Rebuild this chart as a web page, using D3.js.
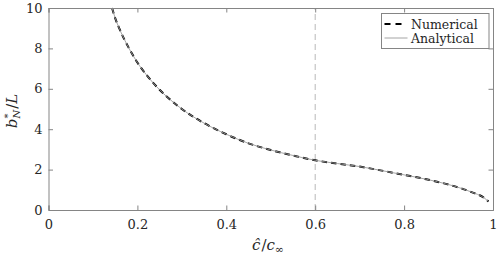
<!DOCTYPE html>
<html>
<head>
<meta charset="utf-8">
<script src="https://cdn.jsdelivr.net/npm/d3@7/dist/d3.min.js"></script>
<style>
  body { margin: 0; background: #fff; }
</style>
</head>
<body>
<div class="svgContainer"></div>
<script>
// values
const ratio = [0.143, 0.15, 0.16, 0.18, 0.2, 0.22, 0.25, 0.28, 0.3, 0.35, 0.4, 0.45, 0.5,
  0.55, 0.6, 0.65, 0.7, 0.75, 0.8, 0.85, 0.9, 0.95, 0.98, 0.99];
const numerical = [10.0, 9.5, 8.95, 8.05, 7.3, 6.7, 5.95, 5.35, 5.0, 4.3, 3.75, 3.3, 2.97,
  2.7, 2.46, 2.3, 2.15, 1.95, 1.74, 1.52, 1.26, 0.9, 0.6, 0.42];
const analytical = numerical;
const xTicks = [0, 0.2, 0.4, 0.6, 0.8, 1];
const yTicks = [0, 2, 4, 6, 8, 10];
const markX = 0.6;

const width = 498;
const height = 260;
const margin = {left: 48.5, right: 5, top: 8, bottom: 50};
const axisColor = '#858585';
const serif = '"DejaVu Serif", "Liberation Serif", serif';

const svg = d3.select('.svgContainer').append('svg')
  .attr('width', width)
  .attr('height', height)
  .style('font-family', serif);

const scaleX = d3.scaleLinear()
  .domain([0, 1])
  .range([margin.left, width - margin.right]);

const scaleY = d3.scaleLinear()
  .domain([0, 10])
  .range([height - margin.bottom, margin.top]);

const line = d3.line()
  .x((d) => scaleX(d[0]))
  .y((d) => scaleY(d[1]))
  .curve(d3.curveMonotoneX);

const plot = svg.append('g');

// dashed marker
plot.append('line')
  .attr('x1', scaleX(markX)).attr('x2', scaleX(markX))
  .attr('y1', scaleY(0)).attr('y2', scaleY(10))
  .attr('stroke', '#b8b8b8')
  .attr('stroke-width', 1)
  .attr('stroke-dasharray', '6,4');

plot.append('path')
  .datum(ratio.map((r, i) => [r, numerical[i]]))
  .attr('fill', 'none')
  .attr('stroke', 'black')
  .attr('stroke-width', 2)
  .attr('stroke-dasharray', '5.5,4')
  .attr('d', line);

plot.append('path')
  .datum(ratio.map((r, i) => [r, analytical[i]]))
  .attr('fill', 'none')
  .attr('stroke', '#9a9a9a')
  .attr('stroke-width', 0.9)
  .attr('d', line);

// axes, ticks inside on all four sides
const xAxis = d3.axisBottom(scaleX).tickValues(xTicks).tickSize(-4.5).tickPadding(10)
  .tickFormat((d) => d3.format('')(d));
const yAxis = d3.axisLeft(scaleY).tickValues(yTicks).tickSize(-4.5).tickPadding(6);

svg.append('g')
  .attr('transform', 'translate(0,' + scaleY(0) + ')')
  .call(xAxis);
svg.append('g')
  .attr('transform', 'translate(' + scaleX(0) + ',0)')
  .call(yAxis);
svg.append('g')
  .attr('transform', 'translate(0,' + scaleY(10) + ')')
  .call(d3.axisTop(scaleX).tickValues(xTicks).tickSize(-4.5).tickFormat(''));
svg.append('g')
  .attr('transform', 'translate(' + scaleX(1) + ',0)')
  .call(d3.axisRight(scaleY).tickValues(yTicks).tickSize(-4.5).tickFormat(''));

svg.selectAll('.domain, .tick line').attr('stroke', axisColor);
svg.selectAll('.tick text')
  .style('font-family', serif)
  .style('font-size', '13px')
  .attr('fill', '#262626');

// axis labels
const xLabel = svg.append('text')
  .attr('x', 268)
  .attr('y', 250)
  .attr('text-anchor', 'middle')
  .attr('fill', '#262626')
  .style('font-size', '15px');
xLabel.append('tspan').attr('font-style', 'italic').text('ĉ');
xLabel.append('tspan').attr('dx', 1).text('/');
xLabel.append('tspan').attr('font-style', 'italic').text('c');
xLabel.append('tspan').style('font-size', '11px').attr('dy', 3).text('∞');

const yLabel = svg.append('text')
  .attr('transform', 'translate(17,' + scaleY(4.9) + ') rotate(-90)')
  .attr('text-anchor', 'middle')
  .attr('fill', '#262626')
  .style('font-size', '15px');
yLabel.append('tspan').attr('font-style', 'italic').text('b');
yLabel.append('tspan').style('font-size', '10px').attr('dy', -6).text('*');
yLabel.append('tspan').style('font-size', '10px').attr('font-style', 'italic').attr('dx', -5).attr('dy', 9).text('N');
yLabel.append('tspan').attr('dy', -3).attr('dx', 1).text('/');
yLabel.append('tspan').attr('font-style', 'italic').text('L');

// legend
const legend = svg.append('g').attr('transform', 'translate(381.5,13.5)');
legend.append('rect')
  .attr('width', 107.5)
  .attr('height', 35)
  .attr('fill', 'white')
  .attr('stroke', axisColor);
const entries = [
  {name: 'Numerical', stroke: 'black', width: 2, dash: '6,5', end: 20},
  {name: 'Analytical', stroke: '#9a9a9a', width: 0.9, dash: null, end: 26}
];
entries.forEach((e, i) => {
  const y = 10.5 + i * 14;
  legend.append('line')
    .attr('x1', 3).attr('x2', e.end)
    .attr('y1', y).attr('y2', y)
    .attr('stroke', e.stroke)
    .attr('stroke-width', e.width)
    .attr('stroke-dasharray', e.dash);
  legend.append('text')
    .attr('x', 29.5)
    .attr('y', y + 4.5)
    .attr('fill', '#262626')
    .style('font-size', '12.5px')
    .text(e.name);
});
</script>
</body>
</html>
